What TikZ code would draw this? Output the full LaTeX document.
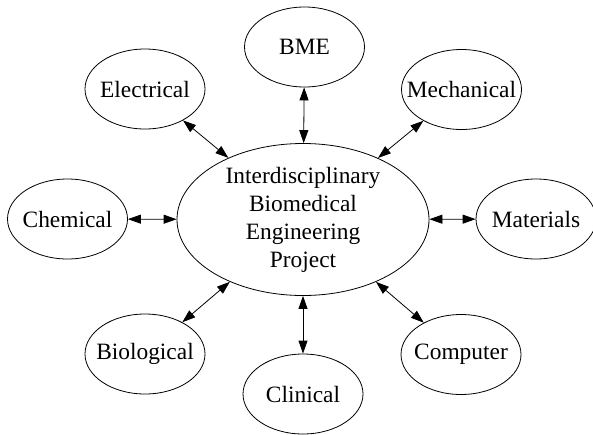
\documentclass[tikz,border=0pt]{standalone}
\usepackage{fontspec}
\setmainfont{Liberation Serif}
\usetikzlibrary{shapes.geometric,arrows.meta}
\begin{document}
\begin{tikzpicture}[x=1pt,y=-1pt,
  txt/.style={font=\fontsize{23.4}{28}\selectfont,align=center,inner sep=0pt},
  outer/.style={draw,ellipse,line width=0.8pt,inner sep=0pt,minimum width=120pt,minimum height=80pt,label={[txt]center:#1}},
  hub/.style={draw,ellipse,line width=0.8pt,inner sep=0pt,minimum width=252pt,minimum height=152pt,label={[txt]center:#1}},
  link/.style={line width=0.8pt,{Triangle[length=13pt,width=9pt]}-{Triangle[length=13pt,width=9pt]}}]
\useasboundingbox (0,0) rectangle (593,434);
\node[hub={Interdisciplinary\\Biomedical\\Engineering\\Project}] (c) at (303,219.5) {};
\node[outer=BME] (bme) at (304.5,47) {};
\node[outer=Electrical] (ele) at (145,89) {};
\node[outer=Mechanical] (mec) at (461.5,89.5) {};
\node[outer=Chemical] (che) at (67.5,219) {};
\node[outer=Materials] (mat) at (536,219) {};
\node[outer=Biological] (bio) at (145,354) {};
\node[outer=Computer] (com) at (461,354.5) {};
\node[outer=Clinical] (cli) at (303,394) {};
\foreach \n in {bme,ele,mec,che,mat,bio,com,cli}{
  \draw[link] (c) -- (\n);
}
\end{tikzpicture}
\end{document}
